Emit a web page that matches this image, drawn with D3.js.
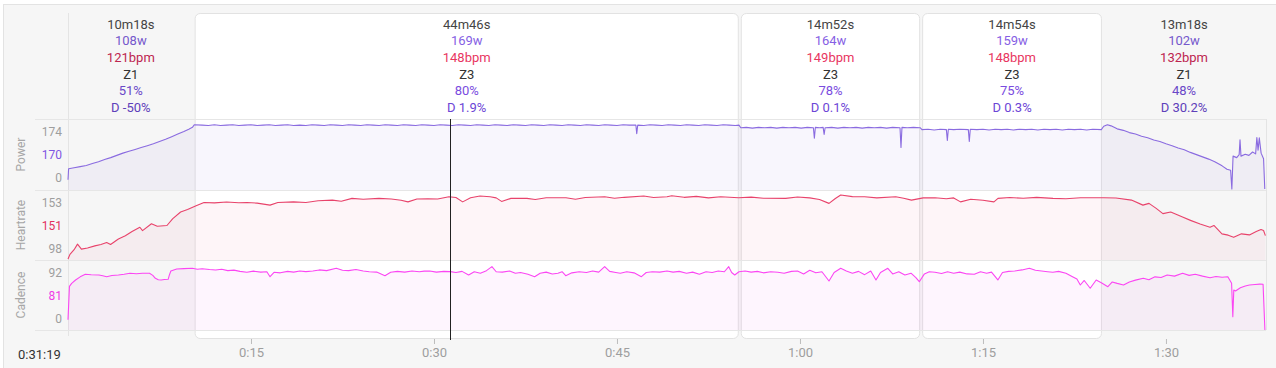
<!DOCTYPE html>
<html><head><meta charset="utf-8">
<script src="https://cdn.jsdelivr.net/npm/d3@7"></script>
<style>
html,body{margin:0;padding:0;background:#fff;}
svg{display:block;font-family:Roboto,"Noto Sans",sans-serif;}
</style></head><body>
<svg id="chart" width="1276" height="368"></svg>
<script>
// ---------- data ----------
const intervalDurations = ["10m18s","44m46s","14m52s","14m54s","13m18s"];
const intervalSeconds   = [618, 2686, 892, 894, 798];
const intervalWatts     = ["108w","169w","164w","159w","102w"];
const intervalBpm       = ["121bpm","148bpm","149bpm","148bpm","132bpm"];
const intervalZones     = ["Z1","Z3","Z3","Z3","Z1"];
const intervalPct       = ["51%","80%","78%","75%","48%"];
const intervalDrift     = ["D -50%","D 1.9%","D 0.1%","D 0.3%","D 30.2%"];
const intervalSelected  = [false, true, true, true, false];

const xTickValues = [15, 30, 45, 60, 75, 90];            // minutes
const xTickLabels = ["0:15","0:30","0:45","1:00","1:15","1:30"];
const cursorTime  = 31.317;                                // minutes
const cursorLabel = "0:31:19";

const panelNames   = ["Power","Heartrate","Cadence"];
const powerTicks   = ["174","170","0"];
const hrTicks      = ["153","151","98"];
const cadenceTicks = ["92","81","0"];

// [minute, watts]
const powerData = [[0,25],[0.05,54],[0.5,57],[1,60],[1.5,63],[2,68],[2.5,73],[3,79],[3.5,84],[4,90],[4.5,96],[5,101],[5.5,106],[6,111],[6.5,116],[7,121],[7.5,127],[8,133],[8.5,140],[9,147],[9.5,154],[9.9,160],[10.2,165],[10.35,172],
[11,171],[11.5,170],[12,172],[12.5,170],[13,171],[13.5,172],[14,170],[14.5,171],[15,172],[15.5,170],[16,171],[16.5,172],[17,170],[17.5,171],[18,172],[18.5,170],[19,171],[19.5,170],[20,172],[20.5,171],[21,170],[21.5,172],[22,171],[22.5,170],[23,172],[23.5,171],[24,170],[24.5,172],[25,171],[25.5,170],[26,172],[26.5,171],[27,170],[27.5,172],[28,171],[28.5,170],[29,172],[29.5,171],[30,170],[30.5,172],[31,171],[31.5,170],[32,172],[32.5,171],[33,170],[33.5,172],[34,171],[34.5,170],[35,172],[35.5,171],[36,170],[36.5,172],[37,171],[37.5,170],[38,172],[38.5,171],[39,170],[39.5,172],[40,171],[40.5,170],[41,172],[41.5,171],[42,170],[42.5,172],[43,171],[43.5,170],[44,172],[44.5,171],[45,170],[45.5,172],[46,171],[46.55,171],[46.62,148],[46.7,171],[47.2,170],[47.7,172],[48.2,171],[48.7,170],[49.2,172],[49.7,171],[50.2,170],[50.7,172],[51.2,171],[51.7,170],[52.2,172],[52.7,171],[53.2,170],[53.7,172],[54.2,171],[54.7,170],[55.0,171],
[55.15,164],[55.6,165],[56.1,163],[56.6,165],[57.1,164],[57.6,165],[58.1,163],[58.6,165],[59.1,164],[59.6,165],[60.1,163],[60.6,165],[61.1,164],[61.18,136],[61.26,165],[61.6,164],[61.9,165],[61.98,146],[62.06,164],[62.6,165],[63.1,163],[63.6,165],[64.1,164],[64.6,165],[65.1,163],[65.6,165],[66.1,164],[66.6,165],[67.1,163],[67.6,165],[68.2,164],[68.28,111],[68.36,165],[68.8,164],[69.3,165],[69.85,164],
[70.0,159],[70.5,160],[71.0,158],[71.5,160],[72.0,159],[72.08,130],[72.16,160],[72.6,159],[73.1,160],[73.8,159],[73.88,127],[73.96,160],[74.5,159],[75.0,160],[75.5,158],[76.0,160],[76.5,159],[77.0,160],[77.5,158],[78.0,160],[78.5,159],[79.0,160],[79.5,158],[80.0,160],[80.5,159],[81.0,160],[81.5,158],[82.0,160],[82.5,159],[83.0,160],[83.5,158],[84.0,160],[84.7,159],
[84.9,168],[85.2,172],[85.5,169],[86,161],[86.5,157],[87,151],[87.5,147],[88,141],[88.5,137],[89,131],[89.5,127],[90,121],[90.5,116],[91,110],[91.5,105],[92,98],[92.5,92],[93,86],[93.5,80],[94,73],[94.6,62],[95.0,53],[95.3,50],[95.4,0],[95.5,88],[95.8,84],[96.0,92],[96.07,132],[96.15,88],[96.5,93],[96.8,90],[97.1,99],[97.35,94],[97.45,138],[97.55,104],[97.65,137],[97.8,96],[98.0,81],[98.1,0]];

// [minute, bpm]
const hrData = [[0,98],[0.16,102],[0.5,106],[0.78,110.8],[1.1,106.5],[1.6,107.5],[2.2,109.3],[2.7,110.5],[3.17,112.2],[3.49,110.5],[4.13,115.2],[4.7,118],[5.25,121.6],[5.89,125.3],[6.11,122.4],[6.84,128.3],[7.32,126.2],[8.11,126.8],[8.59,132.7],[9.23,138.4],[9.8,140.5],[10.5,143.7],[11.15,146.6],[12,146.2],[13,147],[14,146.4],[14.66,146.6],[15.5,146],[16.56,144.3],[17.2,146.5],[18.48,147.1],[19.5,146.5],[20.5,148],[21.67,148.6],[22.4,147.6],[23.28,150.1],[24.2,149.4],[25.49,150.1],[26.5,149.6],[27.3,148.5],[27.87,147.1],[28.6,149.5],[29.5,149.8],[30.3,149.6],[31.23,151.5],[31.8,150.8],[32.35,147.1],[33.0,150.6],[33.77,152.1],[34.6,151.5],[35.1,150.5],[35.54,147.5],[36.3,150.1],[37.62,150.1],[38.3,149.2],[39.2,150.6],[40.82,150.6],[41.6,149.4],[42.4,150.8],[43.99,151.5],[44.8,150.2],[45.6,151],[47.19,152.1],[48.0,150.8],[49.1,151.5],[49.49,152.4],[50.5,151],[51.5,151.8],[52.5,150.5],[53.5,151.5],[54.97,150.6],[56,151.2],[57,150.2],[58.83,150.1],[59.8,151.3],[60.8,150.5],[61.6,149.2],[62.38,145.8],[62.9,150],[63.34,153],[64.3,151.6],[65.3,151.5],[66.3,150.5],[67.85,151.5],[68.5,150.2],[69.14,148.6],[70.1,150.5],[71.07,150.6],[72,149.8],[72.6,150.5],[73.16,147.1],[74,149.3],[75,148.5],[75.9,147.1],[76.23,150.1],[77.2,150.8],[78.3,150.2],[79.4,151],[80.74,150.1],[81.8,149.8],[83,150.6],[84.92,150.6],[85.9,150.4],[87.17,148.6],[88.11,144.3],[88.61,145.8],[89.2,141.5],[89.75,137],[90.39,138.4],[91.36,134],[92.01,131.2],[92.8,128],[93.61,125.3],[93.93,126.8],[94.59,119.6],[95.1,118.5],[95.55,116.6],[96.19,119.6],[96.84,118.7],[97.4,121.6],[97.79,123.3],[98.0,122.5],[98.15,118.1]];

// [minute, rpm]
const cadenceData = [[0,14],[0.12,60],[0.3,64],[0.62,68.7],[1.0,73],[1.42,76.5],[1.9,75.8],[2.53,75.5],[2.85,74.5],[3.17,73.2],[3.6,74.8],[4.13,75.5],[4.6,76.5],[5.08,77.9],[5.6,77.2],[6.1,78],[6.68,77.9],[6.95,75],[7.16,71],[7.4,69],[7.64,68.7],[7.9,69.3],[8.21,69.6],[8.3,75],[8.43,81],[8.91,83.8],[9.5,84.3],[10.19,84.7],[10.6,83.5],[11.0,84.2],[11.6,83],[12.1,82.4],[12.6,83.5],[13.1,81.5],[13.6,82.2],[14.1,80.5],[14.66,79.2],[15.2,80.8],[15.8,79.5],[16.3,80],[16.56,73.2],[16.89,79.2],[17.4,78.5],[18.0,80.5],[18.5,79.5],[19.0,81],[19.5,80.2],[20.07,81],[20.6,82.5],[21.2,81.5],[21.99,84.7],[22.5,82],[23.0,81.5],[23.6,83],[24.2,81],[24.7,80],[25.3,79.5],[25.98,74.6],[26.45,79.2],[27.0,80.5],[27.6,79.5],[28.2,81],[28.8,80],[29.2,80.8],[29.65,81],[30.2,79.5],[30.8,80.5],[31.34,80.1],[31.8,79],[32.3,80.5],[32.84,75.5],[33.3,80],[33.8,78],[34.3,81.5],[34.75,87],[35.1,80],[35.6,79.5],[36.2,81],[36.67,77.9],[37.1,79],[37.7,76.5],[38.25,73.2],[38.7,78],[39.2,79.5],[39.7,77],[40.16,77.9],[40.5,80],[40.8,74.6],[41.3,78.5],[41.9,80],[42.5,79],[43.0,81],[43.5,79.5],[43.99,87],[44.4,80.5],[44.9,79],[45.27,77.9],[45.8,80],[46.4,78.5],[47.0,73.2],[47.4,79],[47.9,80],[48.5,79.5],[49.1,81],[49.6,79.5],[50.1,80.5],[50.7,78],[51.2,79.5],[51.75,76.5],[52.3,80],[52.8,79],[53.3,81],[53.8,80],[54.16,87],[54.4,79],[54.65,75.5],[55.0,80],[55.5,81],[56.0,79.5],[56.5,80.5],[57.0,78.5],[57.6,80],[58.19,79.2],[58.7,78],[59.3,80.5],[59.8,81],[60.3,77],[60.8,82],[61.3,78.5],[61.8,80],[62.38,67.3],[62.8,79],[63.34,84.7],[63.8,81],[64.3,78],[64.8,80.5],[65.3,76],[65.8,81],[66.23,68.7],[66.6,79],[67.2,84.7],[67.6,77],[68.1,80],[68.6,75.5],[69.1,78],[69.5,72],[69.78,66.3],[70.2,77],[70.6,80],[71.07,79.2],[71.6,77.5],[72.1,80],[72.6,78],[73.1,79.5],[73.7,77],[74.29,76.5],[74.8,80],[75.3,78],[75.7,79.5],[76.22,68.7],[76.6,79],[77.1,80.5],[77.6,81],[78.2,82.5],[78.8,84.7],[79.3,82],[79.8,81],[80.3,80],[80.73,79.2],[81.2,80.5],[81.8,78],[82.34,73.2],[82.7,70],[82.98,61.8],[83.3,68],[83.79,57.3],[84.28,68.7],[84.7,65],[85.24,59.5],[85.6,66],[86.0,64],[86.52,61.8],[87.0,66],[87.5,68.5],[88.14,71],[88.6,69],[89.1,73],[89.6,72],[90.1,75.5],[90.7,74],[91.36,77.9],[91.9,75],[92.4,76.5],[93.0,74],[93.61,71.8],[94.1,73.5],[94.6,72.5],[95.07,73.2],[95.38,64.1],[95.48,18.3],[95.56,55],[95.7,53.6],[96.1,58],[96.5,60.5],[96.84,61.8],[97.3,62.5],[97.7,63],[97.96,62.8],[98.11,0]];

// ---------- layout ----------
const svg = d3.select("#chart");
const plotLeft = 68, plotRight = 1266;
const x = d3.scaleLinear().domain([0, 98.2]).range([plotLeft, plotRight]);

const panels = [
  {name: panelNames[0], data: powerData, top: 119, bottom: 190, domain: [0,174], range: [189,124], ticks: powerTicks,
   line: "#8a6be0", fill: "rgba(123,90,214,0.055)", hl: "#7f55e3"},
  {name: panelNames[1], data: hrData, top: 190, bottom: 260, domain: [98,153], range: [259,195], ticks: hrTicks,
   line: "#e8436b", fill: "rgba(232,67,110,0.05)", hl: "#e3305f"},
  {name: panelNames[2], data: cadenceData, top: 260, bottom: 330, domain: [0,92], range: [330,263], ticks: cadenceTicks,
   line: "#fb46f3", fill: "rgba(245,66,240,0.055)", hl: "#f03ce6"}
];

// background frame
svg.append("rect").attr("x", 3.5).attr("y", 4.5).attr("width", 1280).attr("height", 370)
  .attr("fill", "#f6f6f6").attr("stroke", "#e3e3e3");

// interval boundaries
const bounds = [0];
intervalSeconds.forEach((s, i) => bounds.push(bounds[i] + s / 60));

// white cards for selected intervals
intervalSelected.forEach((sel, i) => {
  if (!sel) return;
  const x0 = x(bounds[i]) + 1, x1 = x(bounds[i + 1]) - 1;
  svg.append("rect").attr("x", x0 + 0.5).attr("y", 13.5).attr("width", x1 - x0 - 1).attr("height", 325)
    .attr("rx", 5).attr("fill", "#fff").attr("stroke", "#e2e2e2");
});

// frame lines of plot area
svg.append("line").attr("x1", plotLeft + 0.5).attr("x2", plotLeft + 0.5).attr("y1", 13).attr("y2", 336)
  .attr("stroke", "#e4e4e4");
svg.append("line").attr("x1", plotRight + 0.5).attr("x2", plotRight + 0.5).attr("y1", 119).attr("y2", 330)
  .attr("stroke", "#e4e4e4");

// areas
panels.forEach(p => {
  const y = d3.scaleLinear().domain(p.domain).range(p.range).clamp(true);
  p.y = y;
  svg.append("path").datum(p.data)
    .attr("d", d3.area().x(d => x(d[0])).y0(p.bottom).y1(d => y(d[1])))
    .attr("fill", p.fill);
});

// separators
[119, 190, 260, 330].forEach(yv => {
  svg.append("line").attr("x1", 35).attr("x2", plotRight).attr("y1", yv + 0.5).attr("y2", yv + 0.5)
    .attr("stroke", "#e6e6e6");
});

// lines
panels.forEach(p => {
  svg.append("path").datum(p.data)
    .attr("d", d3.line().x(d => x(d[0])).y(d => p.y(d[1])))
    .attr("fill", "none").attr("stroke", p.line).attr("stroke-width", 1.1).attr("stroke-linejoin", "round");
});

// y labels & titles
panels.forEach(p => {
  const offs = [12.5, 36, 58.5];
  p.ticks.forEach((t, j) => {
    svg.append("text").attr("x", 62).attr("y", p.top + offs[j]).attr("dy", "0.35em")
      .attr("text-anchor", "end").attr("font-size", 12)
      .attr("fill", j === 1 ? p.hl : "#9e9e9e").text(t);
  });
  const cy = (p.top + p.bottom) / 2;
  svg.append("text").attr("transform", `translate(21,${cy}) rotate(-90)`).attr("dy", "0.35em")
    .attr("text-anchor", "middle").attr("font-size", 12).attr("fill", "#a6a6a6").text(p.name);
});

// cursor
svg.append("line").attr("x1", Math.round(x(cursorTime)) + 0.5).attr("x2", Math.round(x(cursorTime)) + 0.5)
  .attr("y1", 119).attr("y2", 340).attr("stroke", "#222").attr("stroke-width", 1);

// x axis
const xAxis = d3.axisBottom(x).tickValues(xTickValues).tickFormat((d, i) => xTickLabels[i])
  .tickSizeInner(5).tickSizeOuter(0).tickPadding(4);
const gx = svg.append("g").attr("transform", "translate(0,339)").call(xAxis);
gx.select(".domain").remove();
gx.selectAll(".tick line").attr("stroke", "#bdbdbd");
gx.selectAll(".tick text").attr("fill", "#9e9e9e").attr("font-size", 13).attr("font-family", "Roboto,sans-serif");

svg.append("text").attr("x", 18).attr("y", 354).attr("dy", "0.35em").attr("font-size", 13)
  .attr("fill", "#333").text(cursorLabel);

// interval header text
const rows = [intervalDurations, intervalWatts, intervalBpm, intervalZones, intervalPct, intervalDrift];
const colSel = ["#444", "#8660e4", "#e8365f", "#333", "#7a4ce0", "#6c45d6"];
const colUns = ["#444", "#7558cc", "#bd2550", "#333", "#6a48c8", "#5e40ba"];
intervalSeconds.forEach((s, i) => {
  const cx = (x(bounds[i]) + x(bounds[i + 1])) / 2;
  rows.forEach((arr, r) => {
    svg.append("text").attr("x", cx).attr("y", 24.3 + r * 16.6).attr("dy", "0.35em")
      .attr("text-anchor", "middle").attr("font-size", 13)
      .attr("fill", intervalSelected[i] ? colSel[r] : colUns[r]).text(arr[i]);
  });
});
</script>
</body></html>
